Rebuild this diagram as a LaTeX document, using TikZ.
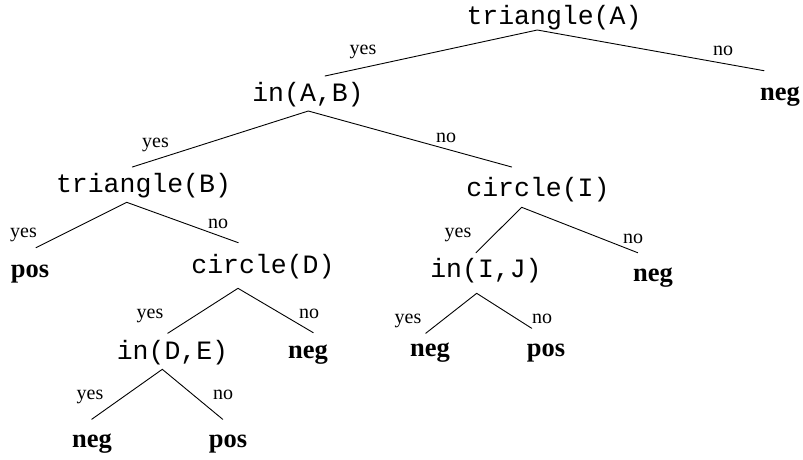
\documentclass[tikz,border=0pt]{standalone}
\usepackage{fontspec}
\setmainfont{Liberation Serif}
\setmonofont{Liberation Mono}
\begin{document}
\begin{tikzpicture}[x=1pt,y=-1pt,
  testnode/.style={font=\ttfamily\fontsize{26.5}{26.5}\selectfont, anchor=base, inner sep=0pt},
  leafnode/.style={font=\bfseries\fontsize{26.5}{26.5}\selectfont, anchor=base, inner sep=0pt},
  lab/.style={font=\fontsize{20}{20}\selectfont, anchor=base, inner sep=0pt},
  branch/.style={line width=0.9pt, line cap=round}]
\useasboundingbox (0,0) rectangle (803,459);
% test nodes
\node[testnode] (tA) at (554,24) {triangle(A)};
\node[testnode] (iAB) at (308,101) {in(A,B)};
\node[testnode] (tB) at (143.5,192) {triangle(B)};
\node[testnode] (cD) at (263,273) {circle(D)};
\node[testnode] (cI) at (538,196) {circle(I)};
\node[testnode] (iDE) at (172.5,359) {in(D,E)};
\node[testnode] (iIJ) at (486,277) {in(I,J)};
% leaves
\node[leafnode] (l1) at (780,100) {neg};
\node[leafnode] (l2) at (30,277) {pos};
\node[leafnode] (l3) at (308,358) {neg};
\node[leafnode] (l4) at (92,447) {neg};
\node[leafnode] (l5) at (228,447) {pos};
\node[leafnode] (l6) at (653,281) {neg};
\node[leafnode] (l7) at (430,356) {neg};
\node[leafnode] (l8) at (546,356) {pos};
% branch points
\coordinate (tAb) at (537.3,30);
\coordinate (iABt) at (325,76);
\coordinate (l1t) at (764,70.7);
\coordinate (iABb) at (308.3,111);
\coordinate (tBt) at (132.3,167);
\coordinate (cIt) at (511.7,167);
\coordinate (tBb) at (126.7,202.3);
\coordinate (l2t) at (36,247.7);
\coordinate (cDt) at (238.3,242.7);
\coordinate (cDb) at (238,288.3);
\coordinate (iDEt) at (167.7,333.3);
\coordinate (l3t) at (313.3,332.7);
\coordinate (iDEb) at (162.3,369.3);
\coordinate (l4t) at (91.7,419.3);
\coordinate (l5t) at (222.7,419.3);
\coordinate (cIb) at (521.7,207.3);
\coordinate (iIJt) at (476,252.7);
\coordinate (l6t) at (637.7,252.7);
\coordinate (iIJb) at (476.7,293.3);
\coordinate (l7t) at (425.7,333.3);
\coordinate (l8t) at (531.7,328.3);
% branches
\draw[branch] (iABt) -- (tAb) -- (l1t);
\draw[branch] (tBt) -- (iABb) -- (cIt);
\draw[branch] (l2t) -- (tBb) -- (cDt);
\draw[branch] (iDEt) -- (cDb) -- (l3t);
\draw[branch] (l4t) -- (iDEb) -- (l5t);
\draw[branch] (iIJt) -- (cIb) -- (l6t);
\draw[branch] (l7t) -- (iIJb) -- (l8t);
% labels
\node[lab] (y1) at (363,54) {yes};
\node[lab] (n1) at (723,55) {no};
\node[lab] (y2) at (155.5,147) {yes};
\node[lab] (n2) at (446,142) {no};
\node[lab] (y3) at (23.5,237) {yes};
\node[lab] (n3) at (218,228) {no};
\node[lab] (y4) at (150,318) {yes};
\node[lab] (n4) at (309,318) {no};
\node[lab] (y5) at (90,399) {yes};
\node[lab] (n5) at (223,399) {no};
\node[lab] (y6) at (458,237) {yes};
\node[lab] (n6) at (633,243) {no};
\node[lab] (y7) at (408,323) {yes};
\node[lab] (n7) at (542,323) {no};
\end{tikzpicture}
\end{document}
